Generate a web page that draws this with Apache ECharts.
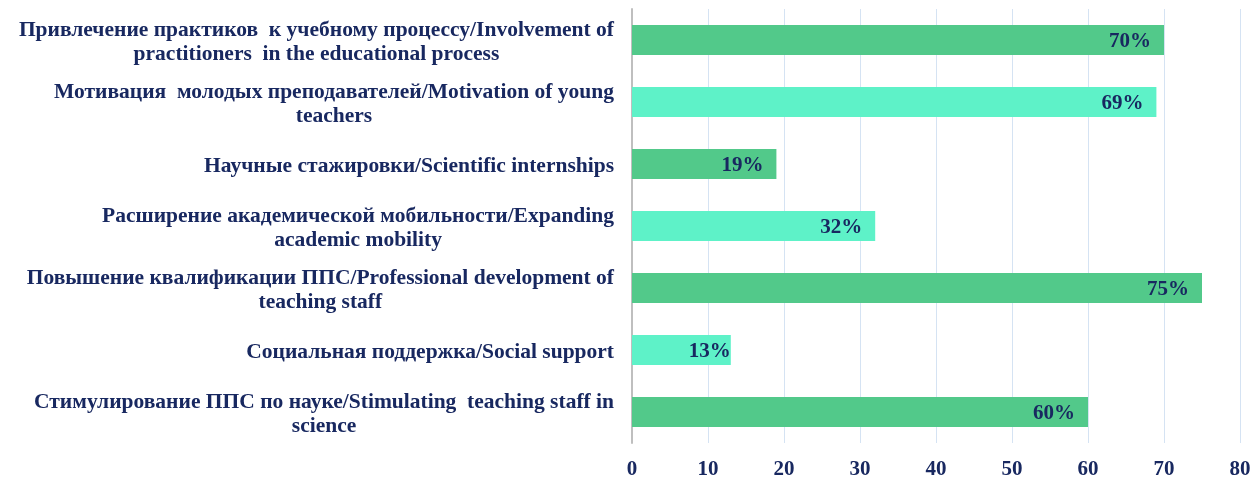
<!DOCTYPE html>
<html>
<head>
<meta charset="utf-8">
<script src="https://cdn.jsdelivr.net/npm/echarts@6/dist/echarts.min.js"></script>
<style>
  html, body { margin: 0; padding: 0; background: #fff; }
  #chart { width: 1251px; height: 479px; }
</style>
</head>
<body>
<div id="chart"></div>
<script>
// categories, top to bottom
var categories = [
    'Привлечение практиков  к учебному процессу/Involvement of\npractitioners  in the educational process',
    'Мотивация  молодых преподавателей/Motivation of young\nteachers',
    'Научные стажировки/Scientific internships',
    'Расширение академической мобильности/Expanding\nacademic mobility',
    'Повышение квалификации ППС/Professional development of\nteaching staff',
    'Социальная поддержка/Social support',
    'Стимулирование ППС по науке/Stimulating  teaching staff in\nscience'
];
var values = [70, 69, 19, 32, 75, 13, 60];
var barColors = ['#52C98A', '#5EF2C8'];

var textColor = '#182860';
var fontFamily = '"Liberation Serif", "Times New Roman", serif';

var chart = echarts.init(document.getElementById('chart'));

chart.setOption({
    backgroundColor: '#fff',
    animation: false,
    grid: {
        left: 632, right: 11, top: 9, bottom: 36,
        containLabel: false,
        outerBoundsMode: 'none'
    },
    xAxis: {
        type: 'value',
        min: 0,
        max: 80,
        interval: 10,
        axisLine: { show: false },
        axisTick: { show: false },
        splitLine: { lineStyle: { color: '#D5E3F3', width: 1 } },
        axisLabel: {
            color: textColor,
            fontFamily: fontFamily,
            fontWeight: 'bold',
            fontSize: 21,
            margin: 16
        }
    },
    yAxis: {
        type: 'category',
        inverse: true,
        data: categories,
        axisLine: { show: true, lineStyle: { color: '#BFBFBF', width: 2 } },
        axisTick: { show: false },
        axisLabel: {
            margin: 18,
            padding: [5, 0, 0, 0],
            formatter: function (v) {
                return v.split('\n').map(function (s) { return '{c|' + s + '}'; }).join('\n');
            },
            rich: {
                c: {
                    align: 'center',
                    color: textColor,
                    fontFamily: fontFamily,
                    fontWeight: 'bold',
                    fontSize: 21.5,
                    lineHeight: 24
                }
            }
        }
    },
    series: [{
        type: 'bar',
        data: values.map(function (v, i) {
            var item = { value: v, itemStyle: { color: barColors[i % 2] } };
            // the short 13% bar has its label pushed to the bar end
            if (v === 13) item.label = { distance: 0 };
            return item;
        }),
        barWidth: '48%',
        label: {
            show: true,
            position: 'insideRight',
            distance: 13,
            offset: [0, 2],
            formatter: '{c}%',
            color: textColor,
            fontFamily: fontFamily,
            fontWeight: 'bold',
            fontSize: 21
        }
    }]
});
</script>
</body>
</html>
